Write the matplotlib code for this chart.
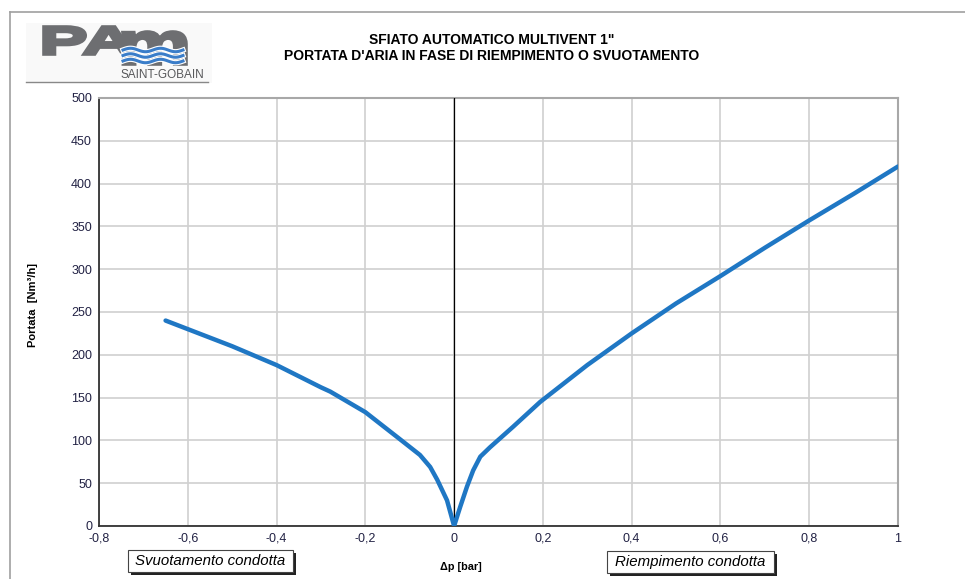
import numpy as np
import matplotlib.pyplot as plt
from matplotlib.patches import Rectangle, PathPatch
from matplotlib.lines import Line2D
from matplotlib.textpath import TextPath
from matplotlib.font_manager import FontProperties
from matplotlib.transforms import Affine2D
import matplotlib.patheffects as pe

plt.rcParams["font.family"] = ["Liberation Sans", "DejaVu Sans"]

# Curve (delta p [bar] -> flow [Nm3/h])
dp_empty = [-0.65, -0.6, -0.5, -0.4, -0.3, -0.279, -0.2, -0.126, -0.077,
            -0.054, -0.038, -0.016, 0.0]
q_empty = [240, 230, 210, 188, 162, 157, 133, 103, 83, 69, 54, 30, 0]
dp_fill = [0.0, 0.0135, 0.029, 0.043, 0.059, 0.081, 0.133, 0.194, 0.3, 0.4,
           0.5, 0.6, 0.7, 0.8, 0.9, 1.0]
q_fill = [0, 22, 46, 65, 81, 92, 116, 145, 188, 225, 260, 292, 325, 357, 388, 420]

x_ticks = [-0.8, -0.6, -0.4, -0.2, 0, 0.2, 0.4, 0.6, 0.8, 1]
x_labels = ["-0,8", "-0,6", "-0,4", "-0,2", "0", "0,2", "0,4", "0,6", "0,8", "1"]
y_ticks = list(range(0, 501, 50))

title_lines = ["SFIATO AUTOMATICO MULTIVENT 1\"",
               "PORTATA D'ARIA IN FASE DI RIEMPIMENTO O SVUOTAMENTO"]

W, H = 965, 579
fig = plt.figure(figsize=(W / 100, H / 100), dpi=100)
fig.patch.set_facecolor("white")


def fx(px):
    return px / W


def fy(py):
    return 1 - py / H


# outer frame
fig.add_artist(Line2D([fx(10), fx(965)], [fy(12), fy(12)], color="#a0a0a0", lw=1.2))
fig.add_artist(Line2D([fx(10), fx(10)], [fy(12), fy(579)], color="#a0a0a0", lw=1.2))

ax = fig.add_axes([fx(99), fy(526), fx(898) - fx(99), (526 - 98) / H])
ax.plot(dp_empty + dp_fill[1:], q_empty + q_fill[1:], color="#1f77c4", lw=3.2,
        solid_capstyle="round", solid_joinstyle="round", zorder=4)
ax.axvline(0, color="black", lw=0.9, zorder=3)
ax.set_xlim(-0.8, 1)
ax.set_ylim(0, 500)
ax.set_xticks(x_ticks)
ax.set_xticklabels(x_labels)
ax.set_yticks(y_ticks)
ax.grid(True, color="#d0d0d0", lw=1.2)
ax.tick_params(labelsize=9, length=0, pad=5, colors="#222244")
for s in ["top", "right"]:
    ax.spines[s].set_color("#a8a8a8")
    ax.spines[s].set_linewidth(1.5)
for s in ["left", "bottom"]:
    ax.spines[s].set_color("#333333")
    ax.spines[s].set_linewidth(1.3)

# titles
fig.text(fx(492), fy(40), title_lines[0], ha="center", va="center",
         fontsize=10, fontweight="bold")
fig.text(fx(492), fy(56), title_lines[1], ha="center", va="center",
         fontsize=10, fontweight="bold")

# axis labels
fig.text(fx(33), fy(305), "Portata  [Nm\u00b3/h]", rotation=90, ha="center",
         va="center", fontsize=8, fontweight="bold")
fig.text(fx(461), fy(567), "\u0394p [bar]", ha="center", va="center",
         fontsize=7.8, fontweight="bold")


# boxed captions with shadow
def caption(x0, x1, y0, y1, txt):
    fig.add_artist(Rectangle((fx(x0 + 3), fy(y1 + 3)), fx(x1 - x0), (y1 - y0) / H,
                             facecolor="#222222", edgecolor="none"))
    fig.add_artist(Rectangle((fx(x0), fy(y1)), fx(x1 - x0), (y1 - y0) / H,
                             facecolor="white", edgecolor="#444444", lw=0.8))
    fig.text(fx((x0 + x1) / 2), fy((y0 + y1) / 2), txt, ha="center", va="center",
             fontsize=10.8, style="italic")


caption(128, 293, 550, 572, "Svuotamento condotta")
caption(607, 774, 551, 573, "Riempimento condotta")


# logo
def logo_glyphs(txt, left, top, right, bottom):
    p = TextPath((0, 0), txt, size=1,
                 prop=FontProperties(family="Liberation Sans", weight="bold"))
    e = p.get_extents()
    tr = (Affine2D().translate(-e.x0, -e.y0)
          .scale((right - left) / e.width / W, (bottom - top) / e.height / H)
          .translate(fx(left), fy(bottom)))
    fig.add_artist(PathPatch(tr.transform_path(p), facecolor="#6d6e71",
                             edgecolor="#6d6e71", lw=2.6, joinstyle="miter",
                             transform=fig.transFigure))


fig.add_artist(Rectangle((fx(26), fy(83)), fx(212 - 26), 60 / H,
                         facecolor="#f9f9f9", edgecolor="none"))
logo_glyphs("PA", 44, 27, 133, 54)
logo_glyphs("m", 123, 32, 186, 64)
for k in range(3):
    xs = np.linspace(fx(123), fx(183), 40)
    ys = fy(50 + k * 5.5) + 0.003 * np.sin((xs - xs[0]) / (xs[-1] - xs[0]) * 4 * np.pi)
    fig.add_artist(Line2D(xs, ys, color="#3a7dc9", lw=2.2,
                          path_effects=[pe.Stroke(linewidth=3.8, foreground="white"),
                                        pe.Normal()]))
fig.text(fx(204), fy(75), "SAINT-GOBAIN", ha="right", va="center", fontsize=8.5,
         color="#58595b")
fig.add_artist(Line2D([fx(26), fx(208)], [fy(82), fy(82)], color="#888888", lw=1))

fig.savefig("out.png", dpi=100)
